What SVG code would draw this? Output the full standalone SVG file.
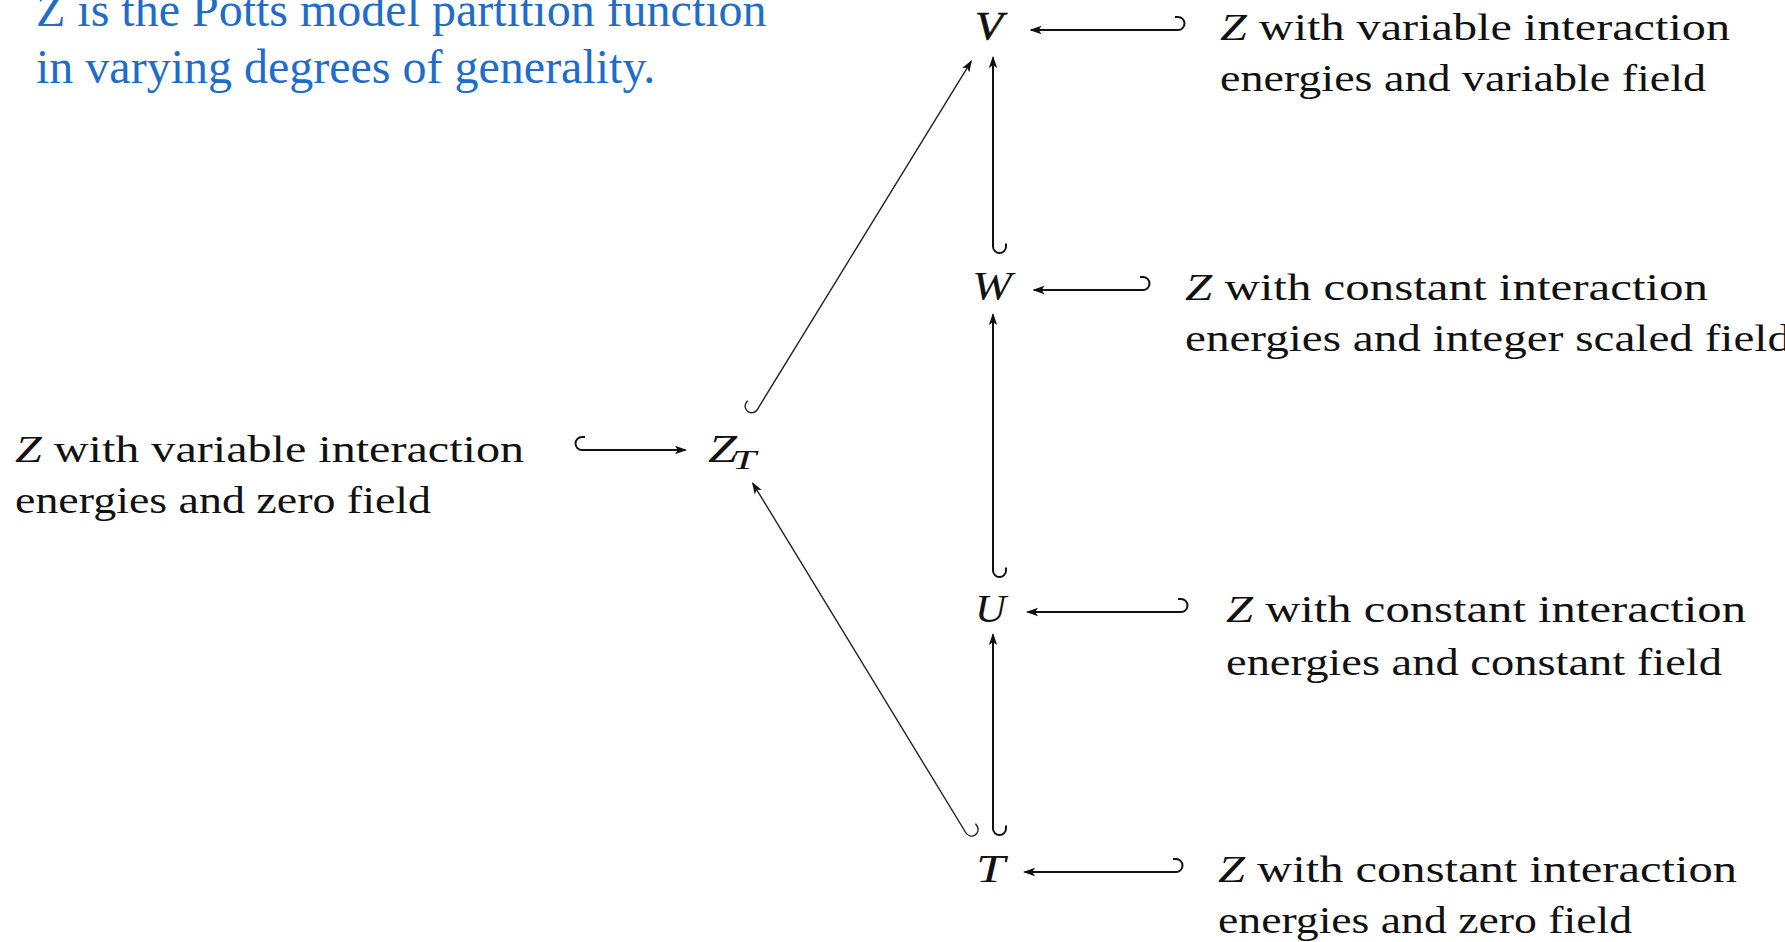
<svg xmlns="http://www.w3.org/2000/svg" width="1785" height="942" viewBox="0 0 1785 942">
  <style>
    .caption { font-family: "Liberation Serif", "Times New Roman", serif; font-size: 48px; fill: #1f6dc8; }
    .math { font-family: "Liberation Serif", "Times New Roman", serif; font-style: italic; font-size: 40px; fill: #111; }
    .sub { font-family: "Liberation Serif", "Times New Roman", serif; font-style: italic; font-size: 28px; fill: #111; }
    .desc { font-family: "Liberation Serif", "Times New Roman", serif; font-size: 37px; fill: #111; }
    .desc .it { font-style: italic; }
    .arr { fill: none; stroke: #111; stroke-width: 2; marker-end: url(#head); }
    .arr.thin { stroke: #222; stroke-width: 1.4; }
  </style>
  <defs>
    <marker id="head" viewBox="0 0 12 10" markerWidth="12" markerHeight="10" refX="10.5" refY="5" orient="auto" markerUnits="userSpaceOnUse">
      <path d="M0,0.8 L12,5 L0,9.2 L2.8,5 Z" fill="#111"/>
    </marker>
  </defs>

  <rect width="1785" height="942" fill="#fff"/>

  <!-- caption -->
  <g id="caption">
    <text class="caption" x="36" y="26">Z is the Potts model partition function</text>
    <text class="caption" x="36" y="83">in varying degrees of generality.</text>
  </g>

  <!-- inclusion arrows -->
  <g id="connectors">
    <!-- descriptions hooked into the named functions -->
    <path class="arr" d="M1175,17 H1178 A6.5,6.5 0 0 1 1178,30 H1031"/>
    <path class="arr" d="M1140,277 H1143 A6.5,6.5 0 0 1 1143,290 H1034"/>
    <path class="arr" d="M1178,599 H1181 A6.5,6.5 0 0 1 1181,612 H1027.5"/>
    <path class="arr" d="M1173,859 H1176 A6.5,6.5 0 0 1 1176,872 H1024.5"/>
    <path class="arr" d="M585,437 H582 A6.5,6.5 0 0 0 582,450 H685.5"/>
    <!-- vertical chain T -> U -> W -> V -->
    <path class="arr" d="M1006,243.5 V246.5 A6.5,6.5 0 0 1 993,246.5 V57.5"/>
    <path class="arr" d="M1006,567.5 V570.5 A6.5,6.5 0 0 1 993,570.5 V314.5"/>
    <path class="arr" d="M1006,825.5 V828.5 A6.5,6.5 0 0 1 993,828.5 V634.5"/>
    <!-- diagonals through Z_T -->
    <path class="arr thin" d="M747.6,400.6 L746,403.1 A6.5,6.5 0 0 0 757,410 L971.2,61.3"/>
    <path class="arr thin" d="M975.5,823.6 L977.1,826.2 A6.5,6.5 0 0 1 966,833 L752.8,483.3"/>
  </g>

  <!-- function nodes -->
  <g id="node-V">
    <text class="math" x="975" y="39" textLength="28" lengthAdjust="spacingAndGlyphs" stroke="#111" stroke-width="0.6">V</text>
  </g>
  <g id="node-W">
    <text class="math" x="972" y="299" textLength="40" lengthAdjust="spacingAndGlyphs">W</text>
  </g>
  <g id="node-U">
    <text class="math" x="975" y="622" textLength="31" lengthAdjust="spacingAndGlyphs">U</text>
  </g>
  <g id="node-T">
    <text class="math" x="976" y="882" textLength="29" lengthAdjust="spacingAndGlyphs">T</text>
  </g>
  <g id="node-ZT">
    <text class="math" x="708" y="462" textLength="29" lengthAdjust="spacingAndGlyphs">Z</text>
    <text class="sub" x="732" y="469" textLength="24" lengthAdjust="spacingAndGlyphs">T</text>
  </g>

  <!-- descriptions -->
  <g id="desc-V">
    <text class="desc" x="1220" y="40" textLength="510" lengthAdjust="spacingAndGlyphs"><tspan class="it">Z</tspan> with variable interaction</text>
    <text class="desc" x="1220" y="91" textLength="486" lengthAdjust="spacingAndGlyphs">energies and variable field</text>
  </g>
  <g id="desc-W">
    <text class="desc" x="1185" y="300" textLength="523" lengthAdjust="spacingAndGlyphs"><tspan class="it">Z</tspan> with constant interaction</text>
    <text class="desc" x="1185" y="351" textLength="606" lengthAdjust="spacingAndGlyphs">energies and integer scaled field</text>
  </g>
  <g id="desc-U">
    <text class="desc" x="1226" y="622" textLength="520" lengthAdjust="spacingAndGlyphs"><tspan class="it">Z</tspan> with constant interaction</text>
    <text class="desc" x="1226" y="675" textLength="496" lengthAdjust="spacingAndGlyphs">energies and constant field</text>
  </g>
  <g id="desc-T">
    <text class="desc" x="1218" y="882" textLength="519" lengthAdjust="spacingAndGlyphs"><tspan class="it">Z</tspan> with constant interaction</text>
    <text class="desc" x="1218" y="933" textLength="414" lengthAdjust="spacingAndGlyphs">energies and zero field</text>
  </g>
  <g id="desc-ZT">
    <text class="desc" x="15" y="462" textLength="509" lengthAdjust="spacingAndGlyphs"><tspan class="it">Z</tspan> with variable interaction</text>
    <text class="desc" x="15" y="513" textLength="416" lengthAdjust="spacingAndGlyphs">energies and zero field</text>
  </g>
</svg>
